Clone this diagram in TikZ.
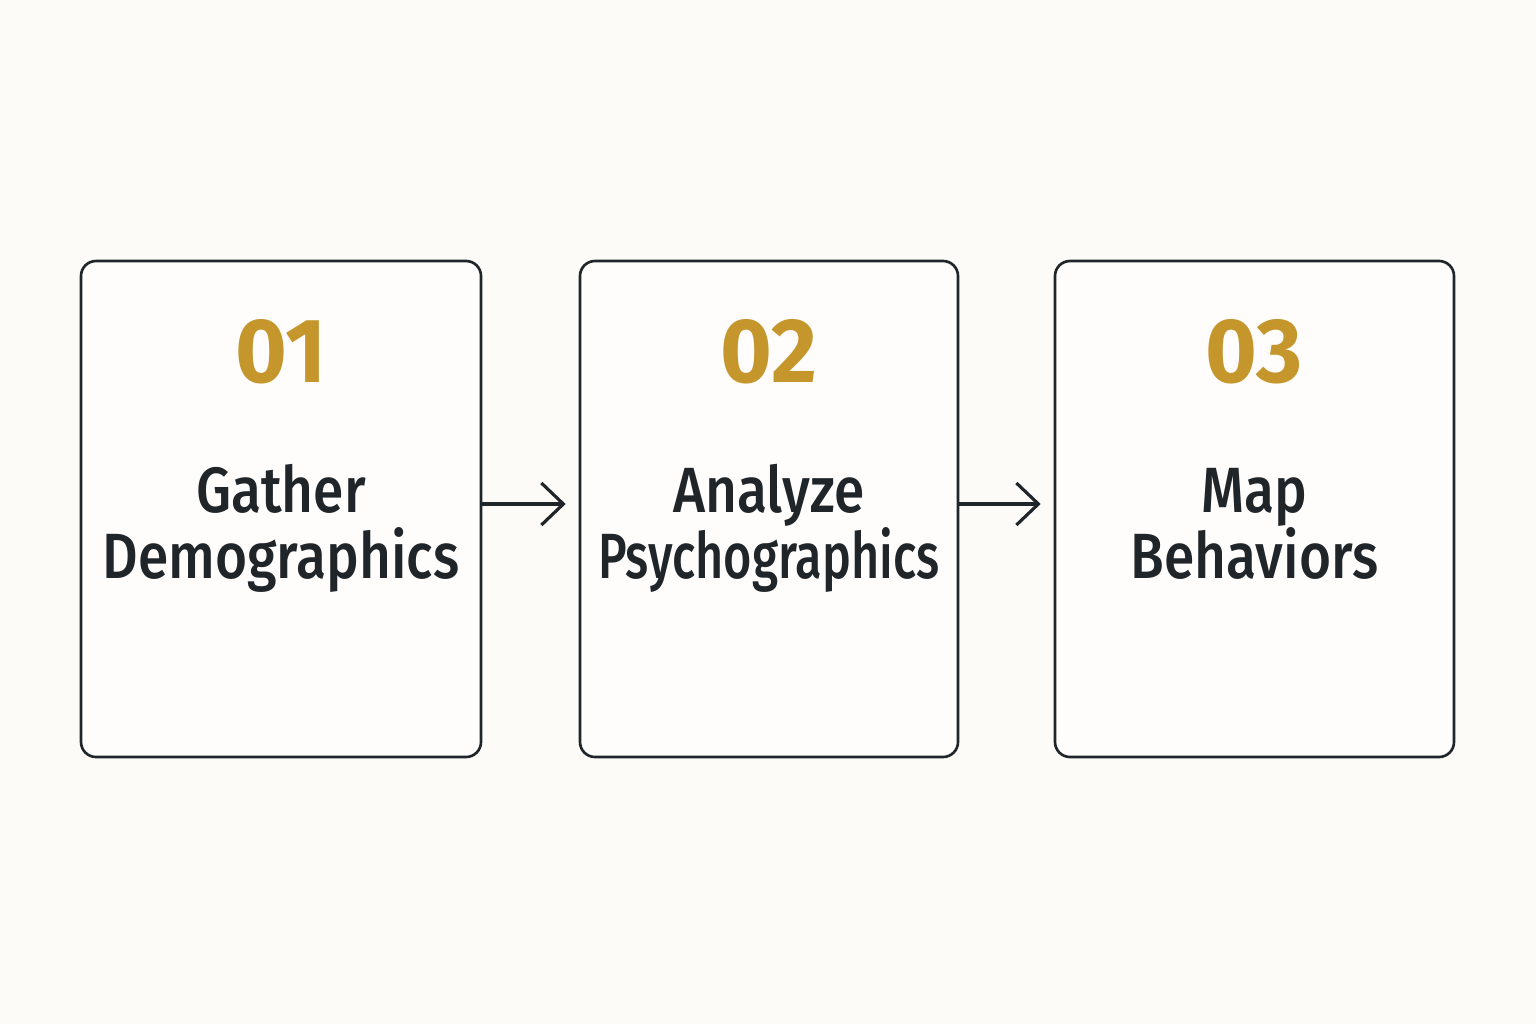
\documentclass[tikz,border=0pt]{standalone}
\usepackage{fontspec}
\setmainfont{Fira Sans}
\newfontfamily\labelfont[FakeStretch=0.86, UprightFont={* Medium}]{Fira Sans}
\newfontfamily\labelnarrow[FakeStretch=0.76, UprightFont={* Medium}]{Fira Sans}
\newfontfamily\numfont[FakeStretch=0.97]{Fira Sans}
\usepackage{xcolor}
\usetikzlibrary{arrows.meta,positioning}
\definecolor{stepgold}{HTML}{C4962C}
\definecolor{inkdark}{HTML}{20252A}
\definecolor{paper}{HTML}{FCFBF8}

\begin{document}
\begin{tikzpicture}[
  stepbox/.style={draw=inkdark, line width=0.75pt, rounded corners=0.15cm, minimum height=4.96cm, fill=white!60!paper},
  num/.style={font=\numfont\fontsize{26}{28}\selectfont\bfseries, text=stepgold},
  label/.style={font=\labelfont\fontsize{18.2}{18.8}\selectfont, text=inkdark, align=center, anchor=north},
  arrow/.style={-{Straight Barb[length=2.2mm, width=4.2mm, line width=0.9pt]}, line width=0.9pt, draw=inkdark},
]
\fill[paper] (0,0) rectangle (15.36,10.24);
\useasboundingbox (0,0) rectangle (15.36,10.24);

\node[stepbox, minimum width=4.0cm] (b1) at (2.81,5.15) {};
\node[stepbox, minimum width=3.78cm] (b2) at (7.69,5.15) {};
\node[stepbox, minimum width=3.99cm] (b3) at (12.545,5.15) {};

\node[num, below=0.47cm of b1.north] (n1) {01};
\node[num, below=0.47cm of b2.north] (n2) {02};
\node[num, below=0.47cm of b3.north] (n3) {03};

\node[label, below=1.92cm of b1.north] (t1) {Gather\\Demographics};
\node[label, below=1.92cm of b2.north] (t2) {Analyze\\{\labelnarrow Psychographics}};
\node[label, below=1.92cm of b3.north] (t3) {Map\vphantom{h}\\Behaviors};

\draw[arrow, shorten >=0.13cm] ([yshift=0.5mm]b1.east) -- ([yshift=0.5mm]b2.west);
\draw[arrow, shorten >=0.13cm] ([yshift=0.5mm]b2.east) -- ([yshift=0.5mm]b3.west);

\end{tikzpicture}
\end{document}
